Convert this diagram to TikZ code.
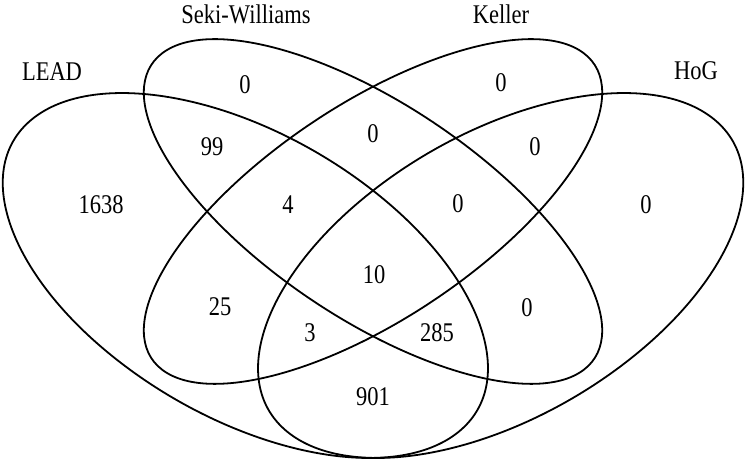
\documentclass[tikz,border=0pt]{standalone}
\usepackage{fontspec}
\setmainfont{Liberation Serif}

\begin{document}
\begin{tikzpicture}[x=1pt, y=1pt,
setline/.style={line width=1.8pt},
setname/.style={font=\fontsize{22.5}{27}\selectfont, yscale=1.2, inner sep=0pt},
count/.style={font=\fontsize{22.5}{27}\selectfont, yscale=1.2, inner sep=0pt}
]
\useasboundingbox (0,0) rectangle (746,462);
% the four sets
\begin{scope}[shift={(373,250.5)}, xscale=851, yscale=640]
\draw[setline, shift={(-0.15,-0.1)}, rotate=135] (0,0) ellipse [x radius=0.35, y radius=0.2]; % LEAD
\draw[setline, rotate=135] (0,0) ellipse [x radius=0.35, y radius=0.15]; % Seki-Williams
\draw[setline, rotate=45] (0,0) ellipse [x radius=0.35, y radius=0.15]; % Keller
\draw[setline, shift={(0.15,-0.1)}, rotate=45] (0,0) ellipse [x radius=0.35, y radius=0.2]; % HoG
\end{scope}
% set names
\node[setname] (lead) at (52,390) {LEAD};
\node[setname] (seki) at (246,448) {Seki-Williams};
\node[setname] (keller) at (501,448) {Keller};
\node[setname] (hog) at (696,391) {HoG};
% region counts
\node[count] (nS) at (245,377) {0};
\node[count] (nK) at (501,379) {0};
\node[count] (nLS) at (212,315) {99};
\node[count] (nSK) at (373,328) {0};
\node[count] (nKH) at (535,315) {0};
\node[count] (nL) at (101,257) {1638};
\node[count] (nLSK) at (288,257) {4};
\node[count] (nSKH) at (458,258) {0};
\node[count] (nH) at (646,257) {0};
\node[count] (nLSKH) at (374,187) {10};
\node[count] (nLK) at (220,155) {25};
\node[count] (nSH) at (527,154) {0};
\node[count] (nLKH) at (310,129) {3};
\node[count] (nLSH) at (437,129) {285};
\node[count] (nLH) at (373,65) {901};
\end{tikzpicture}
\end{document}
